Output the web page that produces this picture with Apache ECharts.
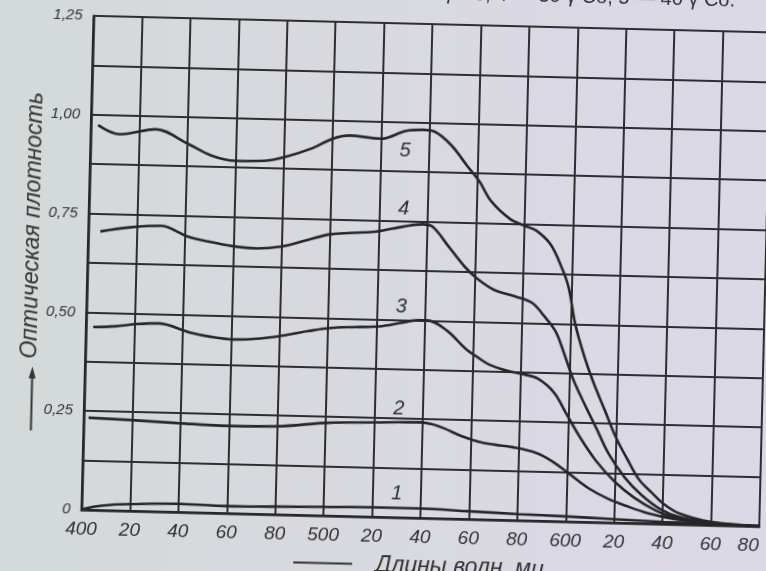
<!DOCTYPE html>
<html>
<head>
<meta charset="utf-8">
<script src="https://cdn.jsdelivr.net/npm/echarts@6/dist/echarts.min.js"></script>
<style>
  html, body { margin: 0; padding: 0; width: 766px; height: 571px; overflow: hidden;
    background: linear-gradient(90deg, #d4d9d9 0%, #d9d9e2 60%, #dcd8e6 100%); }
  /* scan is slightly turned clockwise */
  #chart { position: absolute; left: -27px; top: -24.5px; width: 820px; height: 620px;
    transform: rotate(1.4deg); }
</style>
</head>
<body>
<div id="chart"></div>
<script>
// длина волны (мμ) и оптическая плотность для кривых 1..5
var wl1 = [400, 405, 412, 420, 440, 460, 480, 500, 520, 530, 540, 560, 580, 600, 620, 640, 660, 680];
var od1 = [0.0, 0.008, 0.014, 0.017, 0.021, 0.018, 0.02, 0.022, 0.024, 0.024, 0.024, 0.02, 0.016, 0.013, 0.009, 0.005, 0.002, 0.0];

var wl2 = [402, 419, 439, 460, 480, 501, 521, 530, 539, 544, 549, 556, 563, 570, 577, 587, 594, 601, 609, 617, 625, 634, 645, 660, 680];
var od2 = [0.233, 0.23, 0.225, 0.221, 0.223, 0.235, 0.239, 0.241, 0.242, 0.238, 0.228, 0.21, 0.197, 0.19, 0.185, 0.172, 0.151, 0.121, 0.086, 0.061, 0.043, 0.026, 0.013, 0.004, 0.0];

var wl3 = [403, 412, 421, 430, 443, 452, 461, 472, 483, 492, 501, 511, 521, 530, 537, 541, 549, 557, 562, 567, 575, 581, 587, 594, 599, 605, 612, 620, 628, 637, 645, 660, 680];
var od3 = [0.463, 0.466, 0.473, 0.476, 0.455, 0.445, 0.44, 0.444, 0.455, 0.466, 0.475, 0.479, 0.482, 0.492, 0.5, 0.5, 0.476, 0.431, 0.41, 0.392, 0.377, 0.37, 0.36, 0.325, 0.275, 0.215, 0.155, 0.103, 0.065, 0.034, 0.017, 0.005, 0.0];

var wl4 = [405, 417, 430, 441, 450, 460, 470, 480, 490, 500, 519, 530, 538, 542, 549, 556, 561, 568, 577, 584, 589, 594, 598, 602, 607, 612, 617, 624, 631, 639, 647, 660, 680];
var od4 = [0.705, 0.717, 0.723, 0.698, 0.686, 0.676, 0.672, 0.678, 0.695, 0.712, 0.722, 0.736, 0.743, 0.738, 0.688, 0.637, 0.609, 0.582, 0.566, 0.551, 0.519, 0.48, 0.42, 0.356, 0.294, 0.235, 0.175, 0.115, 0.072, 0.037, 0.018, 0.006, 0.0];

var wl5 = [403, 412, 427, 440, 450, 460, 472, 480, 491, 500, 507, 520, 530, 537, 542, 549, 556, 561, 566, 574, 580, 585, 591, 596, 599, 602, 606, 610, 615, 620, 625, 630, 635, 640, 647, 660, 680];
var od5 = [0.974, 0.952, 0.967, 0.933, 0.904, 0.892, 0.894, 0.904, 0.927, 0.954, 0.963, 0.957, 0.978, 0.982, 0.978, 0.945, 0.892, 0.855, 0.806, 0.762, 0.746, 0.734, 0.7, 0.64, 0.59, 0.5, 0.42, 0.355, 0.285, 0.215, 0.16, 0.11, 0.08, 0.052, 0.027, 0.008, 0.0];

var xTickLabels = ['400', '20', '40', '60', '80', '500', '20', '40', '60', '80', '600', '20', '40', '60', '80'];
var yTickLabels = ['0', '0,25', '0,50', '0,75', '1,00', '1,25'];

var curveNames = ['1', '2', '3', '4', '5'];
var labelWl = 530;

var ink = '#262628';
var font = 'Liberation Sans';

var myChart = echarts.init(document.getElementById('chart'), null, {renderer: 'canvas'});

function curve(name, wl, od, pos, dist) {
    var data = [];
    for (var i = 0; i < wl.length; i++) {
        var item = {value: [wl[i], od[i]]};
        if (wl[i] === labelWl) {
            item.label = {show: true, formatter: name, position: pos, distance: dist};
        }
        data.push(item);
    }
    return {
        name: name,
        type: 'line',
        smooth: 0.35,
        showSymbol: true,
        symbol: 'circle',
        symbolSize: 0,
        data: data,
        lineStyle: {color: ink, width: 2.6},
        itemStyle: {color: ink},
        label: {
            show: false,
            color: '#2e2e30',
            fontFamily: font,
            fontStyle: 'italic',
            fontSize: 20
        }
    };
}

option = {
    animation: false,
    backgroundColor: 'transparent',
    grid: {left: 114, right: 28, top: 47, bottom: 79},
    xAxis: {
        type: 'value',
        min: 400,
        max: 680,
        interval: 20,
        axisLine: {show: true, onZero: false, lineStyle: {color: ink, width: 2.6}},
        axisTick: {show: false},
        splitLine: {show: true, lineStyle: {color: '#2e2e30', width: 2}},
        axisLabel: {
            margin: 10,
            color: '#333335',
            fontFamily: font,
            fontStyle: 'italic',
            fontSize: 19,
            alignMaxLabel: 'right',
            formatter: function (v) { return xTickLabels[Math.round((v - 400) / 20)]; }
        }
    },
    yAxis: {
        type: 'value',
        min: 0,
        max: 1.25,
        interval: 0.125,
        axisLine: {show: true, lineStyle: {color: ink, width: 2.6}},
        axisTick: {show: false},
        splitLine: {show: true, lineStyle: {color: '#2e2e30', width: 2}},
        axisLabel: {
            margin: 11,
            color: '#333335',
            fontFamily: font,
            fontStyle: 'italic',
            fontSize: 15,
            formatter: function (v) {
                var k = Math.round(v / 0.125);
                return k % 2 ? '' : yTickLabels[k / 2];
            }
        }
    },
    graphic: [
        {
            type: 'text', x: 58.6, y: 258, rotation: Math.PI / 2,
            style: {text: 'Оптическая плотность', fill: '#333', font: 'italic 23px "Liberation Sans"',
                textAlign: 'center', textVerticalAlign: 'middle'}
        },
        {
            type: 'line', shape: {x1: 61.5, y1: 463, x2: 61.5, y2: 404},
            style: {stroke: '#333', lineWidth: 2}
        },
        {
            type: 'polygon', shape: {points: [[58, 411], [61.5, 399], [65, 411]]},
            style: {fill: '#333'}
        },
        {
            type: 'line', shape: {x1: 327, y1: 588.5, x2: 386, y2: 588.5},
            style: {stroke: '#333', lineWidth: 2}
        },
        {
            type: 'text', x: 409, y: 589.5,
            style: {text: 'Длины волн, мμ', fill: '#333', font: 'italic 23px "Liberation Sans"',
                textAlign: 'left', textVerticalAlign: 'middle'}
        },
        {
            type: 'text', x: 755, y: 16,
            style: {text: '20 γ Co, 4 — 30 γ Co, 5 — 40 γ Co.', fill: '#333', font: '20px "Liberation Sans"',
                textAlign: 'right', textVerticalAlign: 'middle'}
        }
    ],
    series: [
        curve(curveNames[0], wl1, od1, 'top', 4),
        curve(curveNames[1], wl2, od2, 'top', 3),
        curve(curveNames[2], wl3, od3, 'top', 6),
        curve(curveNames[3], wl4, od4, 'top', 8),
        curve(curveNames[4], wl5, od5, 'bottom', 10)
    ]
};

myChart.setOption(option);
</script>
</body>
</html>
